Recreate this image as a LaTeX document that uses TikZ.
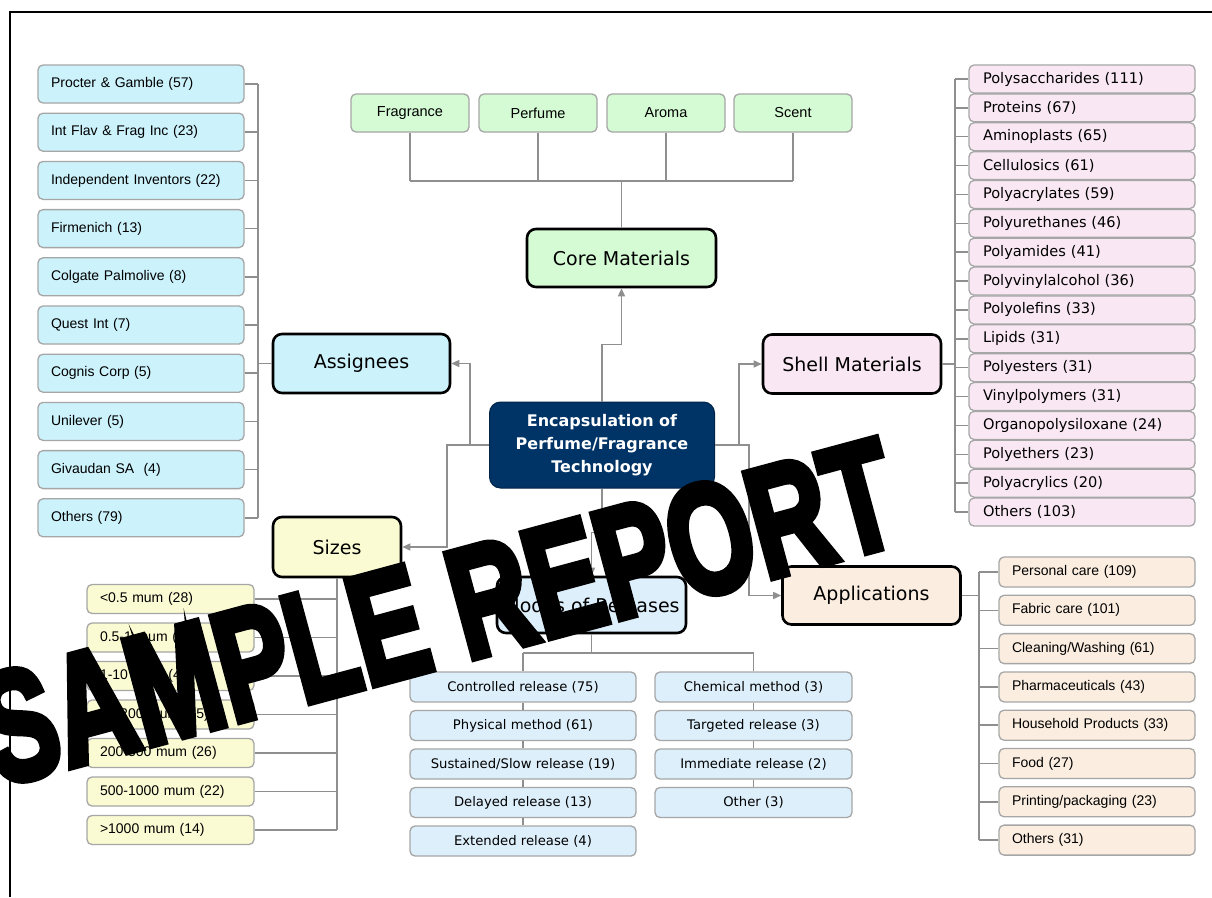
\documentclass[tikz,border=0pt]{standalone}
\usepackage{fontspec}
\usetikzlibrary{arrows.meta,calc}
\newfontfamily\arialf{Liberation Sans}
\newfontfamily\verd{DejaVu Sans}
\newfontfamily\wmfont{Liberation Sans Bold}[FakeBold=5]
\definecolor{cyanF}{HTML}{CCF2FC}
\definecolor{greenF}{HTML}{D5FBD5}
\definecolor{pinkF}{HTML}{F9E8F3}
\definecolor{yellowF}{HTML}{FBFBD3}
\definecolor{blueF}{HTML}{DDEFFB}
\definecolor{peachF}{HTML}{FBEEE1}
\definecolor{navy}{HTML}{003366}
\definecolor{linegray}{HTML}{8F8F8F}
\definecolor{leafborder}{HTML}{A6A6A6}
\begin{document}
\begin{tikzpicture}[x=1pt,y=-1pt,
  leafbase/.style={draw=leafborder, line width=1.3pt, rounded corners=5pt, inner ysep=0pt},
  aleaf/.style={leafbase, fill=cyanF, minimum height=38pt, inner xsep=13pt, text width=180pt, align=left, font=\arialf\fontsize{14}{16}\selectfont},
  sleaf/.style={leafbase, fill=yellowF, minimum height=29pt, inner xsep=13pt, text width=141pt, align=left, font=\arialf\fontsize{14}{16}\selectfont},
  pleaf/.style={leafbase, fill=peachF, minimum height=30pt, inner xsep=13pt, text width=170pt, align=left, font=\arialf\fontsize{14}{16}\selectfont},
  shleaf/.style={leafbase, fill=pinkF, minimum height=28pt, inner xsep=14pt, text width=198pt, align=left, font=\verd\fontsize{14.6}{16}\selectfont},
  mleafL/.style={leafbase, fill=blueF, minimum width=226pt, minimum height=30pt, inner xsep=0pt, font=\verd\fontsize{13.2}{15}\selectfont},
  mleafR/.style={mleafL, minimum width=197pt},
  cleaf/.style={leafbase, fill=greenF, minimum width=118pt, minimum height=38pt, inner xsep=0pt, font=\arialf\fontsize{14.5}{16}\selectfont},
  mainbox/.style={draw=black, line width=2.6pt, rounded corners=9pt, inner sep=0pt, font=\verd\fontsize{19}{22}\selectfont},
  conn/.style={draw=linegray, line width=1.5pt},
  arr/.style={conn, -{Triangle[length=8pt,width=7pt]}, linegray}
]
\useasboundingbox (0,0) rectangle (1212,897);
\fill[white] (0,0) rectangle (1212,897);
\draw[line width=2.4pt] (10,897) -- (10,12) -- (1212,12);

% ---------- central node
\node[draw=navy!70!black, line width=1pt, fill=navy, rounded corners=11pt, minimum width=225pt, minimum height=86pt, inner sep=0pt, text=white, align=center, font=\verd\bfseries\fontsize{16}{23}\selectfont] (center) at (602,445) {Encapsulation of\\Perfume/Fragrance\\Technology};

% ---------- main boxes
\node[mainbox, fill=cyanF, minimum width=177pt, minimum height=59pt] (assig) at (361.5,363.5) {Assignees};
\node[mainbox, fill=greenF, minimum width=189pt, minimum height=58pt] (core) at (621.5,258) {Core Materials};
\node[mainbox, fill=pinkF, minimum width=178pt, minimum height=59pt] (shell) at (852,364) {Shell Materials};
\node[mainbox, fill=yellowF, minimum width=128pt, minimum height=60pt] (sizes) at (337,547) {Sizes};
\node[mainbox, fill=blueF, minimum width=189pt, minimum height=56pt] (modes) at (591.5,605) {Modes of Releases};
\node[mainbox, fill=peachF, minimum width=178pt, minimum height=58pt] (apps) at (871.5,595.5) {Applications};

% ---------- Assignees leaves
\node[aleaf] (a1) at (141,84) {Procter \& Gamble (57)};
\node[aleaf] (a2) at (141,132.2) {Int Flav \& Frag Inc (23)};
\node[aleaf] (a3) at (141,180.4) {Independent Inventors (22)};
\node[aleaf] (a4) at (141,228.6) {Firmenich (13)};
\node[aleaf] (a5) at (141,276.8) {Colgate Palmolive (8)};
\node[aleaf] (a6) at (141,325) {Quest Int (7)};
\node[aleaf] (a7) at (141,373.2) {Cognis Corp (5)};
\node[aleaf] (a8) at (141,421.4) {Unilever (5)};
\node[aleaf] (a9) at (141,469.6) {Givaudan SA\ \ (4)};
\node[aleaf] (a10) at (141,517.8) {Others (79)};
\coordinate (abus) at (258,363.5);
\draw[conn] (a1.east -| abus) -- (a10.east -| abus);
\foreach \i in {1,...,10} {\draw[conn] (a\i.east) -- (a\i.east -| abus);}
\draw[conn] (abus) -- (assig.west);

% ---------- Core leaves
\node[cleaf] (c1) at (410,113) {Fragrance};
\node[cleaf] (c2) at (538,113) {Perfume};
\node[cleaf] (c3) at (666,113) {Aroma};
\node[cleaf] (c4) at (793,113) {Scent};
\coordinate (cbus) at (621.5,181);
\draw[conn] (c1.south |- cbus) -- (c4.south |- cbus);
\foreach \i in {1,...,4} {\draw[conn] (c\i.south) -- (c\i.south |- cbus);}
\draw[conn] (cbus) -- (core.north);

% ---------- Shell leaves
\foreach \t [count=\i] in {Polysaccharides (111),Proteins (67),Aminoplasts (65),Cellulosics (61),Polyacrylates (59),Polyurethanes (46),Polyamides (41),Polyvinylalcohol (36),Polyolefins (33),Lipids (31),Polyesters (31),Vinylpolymers (31),Organopolysiloxane (24),Polyethers (23),Polyacrylics (20),Others (103)}
  {\node[shleaf] (s\i) at (1082,{79+28.87*(\i-1)}) {\t};}
\coordinate (shbus) at (955,364);
\draw[conn] (s1.west -| shbus) -- (s16.west -| shbus);
\foreach \i in {1,...,16} {\draw[conn] (s\i.west) -- (s\i.west -| shbus);}
\draw[conn] (shell.east) -- (shbus);

% ---------- Applications leaves
\foreach \t [count=\i] in {Personal care (109),Fabric care (101),Cleaning/Washing (61),Pharmaceuticals (43),Household Products (33),Food (27),Printing/packaging (23),Others (31)}
  {\node[pleaf] (p\i) at (1097,{572+38.3*(\i-1)}) {\t};}
\coordinate (apbus) at (979,595.5);
\draw[conn] (p1.west -| apbus) -- (p8.west -| apbus);
\foreach \i in {1,...,8} {\draw[conn] (p\i.west) -- (p\i.west -| apbus);}
\draw[conn] (apps.east) -- (apbus);

% ---------- Sizes leaves
\foreach \t [count=\i] in {{<}0.5 mum (28),0.5-1 mum (21),1-10 mum (40),10-200 mum (35),200-500 mum (26),500-1000 mum (22),{>}1000 mum (14)}
  {\node[sleaf] (z\i) at (170.5,{599+38.5*(\i-1)}) {\t};}
\draw[conn] (sizes.south) -- (sizes.south |- z7.east);
\foreach \i in {1,...,7} {\draw[conn] (z\i.east) -- (z\i.east -| sizes.south);}

% ---------- Modes leaves
\node[mleafL] (ml1) at (523,687) {Controlled release (75)};
\node[mleafL] (ml2) at (523,725.5) {Physical method (61)};
\node[mleafL] (ml3) at (523,764) {Sustained/Slow release (19)};
\node[mleafL] (ml4) at (523,802.5) {Delayed release (13)};
\node[mleafL] (ml5) at (523,841) {Extended release (4)};
\node[mleafR] (mr1) at (753.5,687) {Chemical method (3)};
\node[mleafR] (mr2) at (753.5,725.5) {Targeted release (3)};
\node[mleafR] (mr3) at (753.5,764) {Immediate release (2)};
\node[mleafR] (mr4) at (753.5,802.5) {Other (3)};
\coordinate (mbus) at (591.5,653);
\draw[conn] (modes.south) -- (mbus);
\draw[conn] (ml1.north |- mbus) -- (mr1.north |- mbus);
\draw[conn] (ml1.north |- mbus) -- (ml1.north);
\draw[conn] (mr1.north |- mbus) -- (mr1.north);
\foreach \a/\b in {1/2,2/3,3/4,4/5} {\draw[conn] (ml\a.south) -- (ml\b.north);}
\foreach \a/\b in {1/2,2/3,3/4} {\draw[conn] (mr\a.south) -- (mr\b.north);}

% ---------- arrows from center
\coordinate (jA) at (470,363.5);
\coordinate (jS) at (447,547);
\coordinate (jSh) at (739,364);
\coordinate (jAp) at (749,595.5);
\draw[arr] (center.north) -- ++(0,-57) -| (core.south);
\draw[arr] (center.west) -| (jA) -- (assig.east);
\draw[arr] (center.west) -| (jS) -- (sizes.east);
\draw[arr] (center.east) -| (jSh) -- (shell.west);
\draw[arr] (center.east) -| (jAp) -- (apps.west);
\draw[arr] (center.south) -- ++(0,44) -| (modes.north);

% ---------- watermark
\begin{scope}[shift={(438,612)}, rotate=15.1, xscale=0.70]
\node[transform shape, inner sep=0pt, font=\wmfont\fontsize{156}{156}\selectfont, text=black] (wm) at (0,0) {SAMPLE REPORT};
\end{scope}
\end{tikzpicture}
\end{document}
